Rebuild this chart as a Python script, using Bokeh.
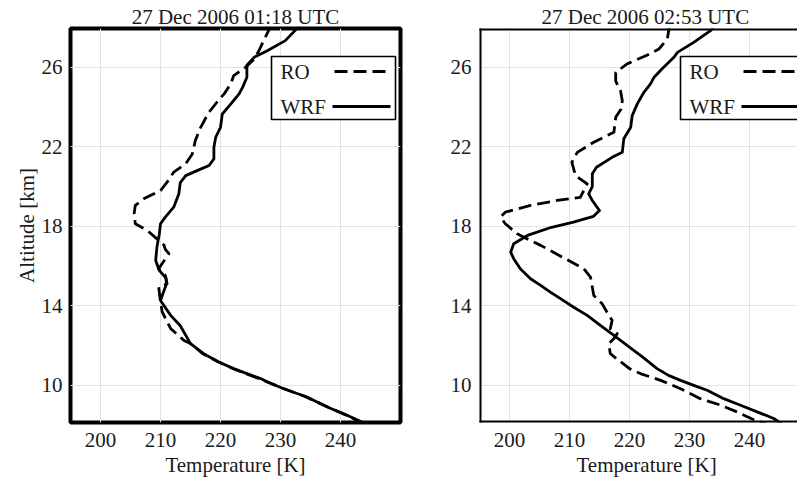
from bokeh.plotting import figure
from bokeh.layouts import row
from bokeh.models import Range1d, FixedTicker, Label, BoxAnnotation, Arrow, Title
from bokeh.embed import file_html
from bokeh.resources import INLINE

FONT = "Liberation Serif"

# ---------------- data ----------------
titles = ["27 Dec 2006 01:18 UTC", "27 Dec 2006 02:53 UTC"]
series_names = ["RO", "WRF"]
x_ticks = [200, 210, 220, 230, 240]
y_ticks = [10, 14, 18, 22, 26]
x_label = "Temperature [K]"
y_label = "Altitude [km]"

# Panel 1 (01:18 UTC)
alt_wrf_1 = [28.1, 27.87, 27.34, 26.83, 26.5, 26.1, 25.5, 25.0, 24.66, 24.15, 23.65, 22.98,
             22.48, 21.97, 21.39, 21.06, 20.8, 20.55, 20.2, 19.63, 18.96, 18.46, 18.13, 17.6,
             17.29, 16.95, 16.28, 15.78, 15.4, 15.11, 14.7, 14.27, 13.52, 13.0, 12.1, 11.59,
             11.17, 10.84, 10.59, 10.34, 10.17, 9.83, 9.41, 8.91, 8.49, 8.1, 8.0]
temp_wrf_1 = [233.2, 232.5, 230.8, 227.8, 225.6, 224.4, 224.4, 223.7, 223.1, 221.7, 220.3, 220.0,
              219.2, 218.9, 218.9, 218.1, 216.1, 214.2, 213.3, 213.05, 212.2, 210.8, 210.0, 209.8,
              209.6, 209.4, 209.2, 209.8, 210.9, 211.0, 210.5, 210.0, 211.7, 213.3, 215.0, 217.2,
              219.7, 222.2, 224.4, 226.7, 227.8, 230.55, 234.4, 237.8, 241.1, 243.9, 244.5]
alt_ro_1 = [28.1, 27.87, 27.34, 26.83, 26.41, 26.0, 25.58, 25.16, 24.66, 24.24, 23.73, 22.98,
            22.31, 21.64, 21.14, 20.72, 20.22, 19.8, 19.38, 19.05, 18.63, 18.13, 17.79, 17.37,
            17.04, 16.84, 16.62, 16.36, 15.86, 15.53, 15.11, 14.94, 14.19, 13.68, 12.85, 12.26,
            12.1, 11.6, 11.2, 10.8, 10.5, 10.2, 9.85, 9.45, 8.95, 8.5, 8.1, 8.0]
temp_ro_1 = [228.4, 228.05, 227.2, 226.4, 225.6, 224.2, 222.2, 221.7, 220.6, 219.4, 218.05, 216.7,
             215.8, 215.3, 214.2, 212.2, 211.1, 210.0, 207.2, 205.8, 205.6, 205.8, 207.8, 209.4,
             210.6, 210.8, 211.4, 210.8, 209.7, 210.8, 211.1, 209.7, 210.0, 210.3, 211.7, 213.9,
             215.0, 217.0, 219.5, 222.4, 225.0, 227.6, 230.4, 234.0, 237.6, 241.0, 243.7, 244.4]

# Panel 2 (02:53 UTC)
alt_wrf_2 = [28.1, 27.84, 27.25, 26.75, 26.5, 25.91, 25.5, 25.16, 24.74, 24.16, 23.57, 22.98,
             22.4, 21.72, 21.47, 20.97, 20.64, 20.0, 19.63, 19.3, 18.79, 18.5, 18.2, 17.95,
             17.54, 17.12, 16.7, 16.37, 15.86, 15.36, 15.03, 14.69, 14.36, 13.93, 13.52, 13.0,
             12.51, 12.01, 11.42, 10.84, 10.5, 10.25, 10.0, 9.75, 9.33, 9.0, 8.6, 8.33, 8.1, 8.0]
temp_wrf_2 = [234.3, 233.5, 230.7, 228.0, 227.4, 225.4, 224.1, 223.5, 222.4, 221.3, 220.45, 220.2,
              219.05, 218.8, 217.1, 214.5, 213.8, 213.8, 213.2, 213.8, 215.0, 214.0, 210.5, 207.0,
              203.0, 200.7, 200.2, 200.7, 201.8, 203.5, 205.2, 206.8, 208.5, 210.7, 212.95, 215.2,
              217.4, 219.6, 222.2, 224.6, 226.5, 228.5, 230.7, 232.95, 235.7, 238.5, 241.8, 244.05,
              245.2, 245.6]
alt_ro_2 = [28.1, 27.87, 27.42, 26.92, 26.6, 26.17, 25.74, 25.3, 24.82, 24.32, 23.9, 23.48,
            22.73, 22.23, 21.72, 21.22, 20.55, 20.13, 19.46, 19.3, 19.05, 18.71, 18.46, 18.13,
            17.62, 17.45, 17.04, 16.45, 15.86, 15.44, 14.94, 14.52, 14.1, 13.52, 13.27, 12.85,
            12.6, 12.35, 12.1, 11.59, 11.26, 10.84, 10.59, 10.25, 9.83, 9.33, 9.0, 8.66, 8.27,
            8.1, 8.0]
temp_ro_2 = [226.7, 226.55, 226.3, 224.9, 222.9, 219.6, 217.7, 217.7, 218.5, 218.8, 218.6, 217.7,
             217.4, 214.05, 211.3, 210.4, 211.0, 212.95, 211.8, 207.95, 203.5, 199.3, 198.5, 199.3,
             201.3, 202.4, 205.2, 208.8, 212.4, 213.5, 213.8, 214.05, 215.45, 216.55, 217.1, 216.8,
             217.95, 217.4, 216.55, 216.8, 218.2, 220.0, 221.8, 225.2, 228.5, 231.8, 235.2, 237.95,
             240.7, 242.4, 243.0]

# ---------------- layout constants ----------------
X0 = 195.0
Y0, Y1 = 8.13, 27.95
FH = 394
TOP, BOTTOM = 28, 56
PX_PER_K = 6.0
LINE_W = 2.8
DASH = "13 6"
GRID = "#e2e2e2"
TXT = "#1a1a1a"
FS = "21px"


def style_title(t, align, offset, standoff):
    t.align = align
    t.offset = offset
    t.standoff = standoff
    t.text_font = FONT
    t.text_font_size = FS
    t.text_font_style = "normal"
    t.text_color = TXT


def make_panel(title, alt_ro, t_ro, alt_wrf, t_wrf, fw, b_left, b_right, first):
    x1 = X0 + fw / PX_PER_K
    p = figure(width=b_left + fw + b_right, height=TOP + FH + BOTTOM,
               x_range=Range1d(X0, x1), y_range=Range1d(Y0, Y1),
               output_backend="svg", toolbar_location=None,
               min_border_left=b_left, min_border_right=b_right,
               min_border_top=TOP, min_border_bottom=BOTTOM)
    p.background_fill_color = "white"
    p.border_fill_color = "white"

    # grid
    p.xgrid.ticker = FixedTicker(ticks=x_ticks)
    p.ygrid.ticker = FixedTicker(ticks=y_ticks)
    for g in (p.xgrid, p.ygrid):
        g.grid_line_color = GRID
        g.grid_line_width = 1

    # axes
    p.xaxis.ticker = FixedTicker(ticks=x_ticks)
    p.yaxis.ticker = FixedTicker(ticks=y_ticks)
    for ax in (p.xaxis, p.yaxis):
        ax.major_tick_line_color = None
        ax.minor_tick_line_color = None
        ax.axis_line_color = None
        ax.major_label_text_font = FONT
        ax.major_label_text_font_size = FS
        ax.major_label_text_color = TXT
        ax.axis_label_text_font = FONT
        ax.axis_label_text_font_size = FS
        ax.axis_label_text_font_style = "normal"
        ax.axis_label_text_color = TXT
    p.xaxis.major_label_standoff = 4
    p.yaxis.major_label_standoff = 2
    if first:
        p.yaxis.axis_label = y_label
        p.yaxis.axis_label_standoff = 0

    # titles: panel title above, temperature label below (in layout panels, never clipped)
    p.title.text = title
    below = Title(text=x_label)
    if first:
        style_title(p.title, "center", 0, 0)
        style_title(below, "center", 0, 2)
    else:
        # centred on the full (uncut) frame of the reference: shift from the left edge
        style_title(p.title, "left", 62, 0)
        style_title(below, "left", 97, 2)
    p.add_layout(below, "below")

    # curves
    p.line(t_ro, alt_ro, line_color="black", line_width=LINE_W, line_dash=DASH, line_join="round")
    p.line(t_wrf, alt_wrf, line_color="black", line_width=LINE_W, line_join="round")

    # frame
    if first:
        p.outline_line_color = "black"
        p.outline_line_width = 4
        p.outline_line_alpha = 1
    else:
        # right edge of this panel is cut off in the reference: draw three sides only
        p.outline_line_color = None
        edges = [(X0, Y1, x1, Y1), (X0, Y0, X0, Y1), (X0, Y0, x1, Y0)]
        for xs, ys, xe, ye in edges:
            p.add_layout(Arrow(end=None, x_start=xs, y_start=ys, x_end=xe, y_end=ye,
                               line_color="black", line_width=4, line_cap="square"))

    # legend (label first, then line sample), positioned in frame pixels
    def dx(px):
        return X0 + px / PX_PER_K

    def dy(py):
        return Y1 - py * (Y1 - Y0) / FH

    p.add_layout(BoxAnnotation(left=dx(201), right=dx(325), top=dy(28), bottom=dy(91),
                               fill_color="white", fill_alpha=1, line_color="black",
                               line_width=1.6, line_alpha=1))
    rows = [(series_names[0], 43, DASH, 264), (series_names[1], 78, "solid", 262)]
    for name, py, dash, sx in rows:
        p.add_layout(Label(x=dx(210), y=dy(py), text=name, text_align="left",
                           text_baseline="middle", text_font=FONT, text_font_size=FS,
                           text_color=TXT))
        p.add_layout(Arrow(end=None, x_start=dx(sx), y_start=dy(py), x_end=dx(320), y_end=dy(py),
                           line_color="black", line_width=LINE_W, line_dash=dash))
    return p


p1 = make_panel(titles[0], alt_ro_1, temp_ro_1, alt_wrf_1, temp_wrf_1, 330, 70, 40, True)
p2 = make_panel(titles[1], alt_ro_2, temp_ro_2, alt_wrf_2, temp_wrf_2, 318, 39, 0, False)

layout = row(p1, p2)
open("out.html", "w").write(file_html(layout, INLINE))
